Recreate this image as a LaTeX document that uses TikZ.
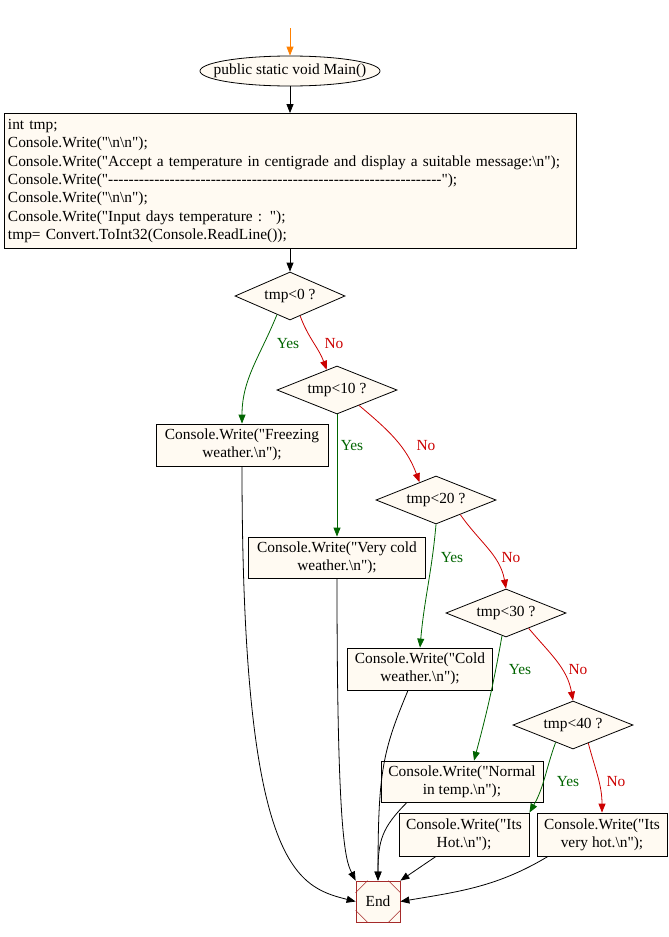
\documentclass[tikz,border=0pt]{standalone}
\usepackage{fontspec}
\setmainfont{Liberation Serif}[Ligatures=TeXOff]
\usetikzlibrary{shapes.geometric,arrows.meta,calc}
\definecolor{flw}{HTML}{FFFAF2}
\definecolor{yesc}{HTML}{006400}
\definecolor{noc}{HTML}{CC0000}
\definecolor{endc}{HTML}{A52A2A}
\newcommand\bs{\textbackslash}
\newcommand\dashes{\foreach \i in {1,...,65}{-}}

\begin{document}
\begin{tikzpicture}[x=1pt,y=-1pt,font=\fontsize{15.4}{18.3}\selectfont,
  box/.style={draw,fill=flw,line width=0.8pt,inner sep=0pt,align=center},
  dia/.style={diamond,aspect=2.5,draw,fill=flw,line width=0.8pt,inner sep=0pt,minimum width=120pt,minimum height=48pt},
  arr/.style={-{Triangle[length=9pt,width=7pt]},line width=0.8pt},
  yes/.style={arr,yesc},
  no/.style={arr,noc},
  yl/.style={text=yesc},
  nl/.style={text=noc}]
  \useasboundingbox (0,0) rectangle (669,937);
  \coordinate (top) at (290,28);
  \node[ellipse,draw,fill=flw,line width=0.8pt,inner xsep=-14pt,inner ysep=0pt,minimum width=180pt,minimum height=30pt] (main) at (290,71) {public static void Main()};
  \node[box,align=left,text width=564pt,inner xsep=4pt,minimum height=135pt] (init) at (290,181) {int tmp;\\
    Console.Write("\bs n\bs n");\\
    Console.Write("Accept a temperature in centigrade and display a suitable message:\bs n");\\
    Console.Write("\dashes");\\
    Console.Write("\bs n\bs n");\\
    Console.Write("Input days temperature : ");\\
    tmp= Convert.ToInt32(Console.ReadLine());};
  \node[dia,minimum width=110pt] (d0) at (290,296) {tmp<0 ?};
  \node[dia] (d1) at (337,390) {tmp<10 ?};
  \node[dia] (d2) at (436,500) {tmp<20 ?};
  \node[dia] (d3) at (506,613) {tmp<30 ?};
  \node[dia] (d4) at (573,725) {tmp<40 ?};
  \node[box,minimum width=172pt,minimum height=42pt] (b1) at (242,445) {Console.Write("Freezing\\weather.\bs n");};
  \node[box,minimum width=177pt,minimum height=41pt] (b2) at (337,557.5) {Console.Write("Very cold\\weather.\bs n");};
  \node[box,minimum width=145pt,minimum height=42pt] (b3) at (420,669) {Console.Write("Cold\\weather.\bs n");};
  \node[box,minimum width=162pt,minimum height=41pt] (b4) at (462,781.5) {Console.Write("Normal\\in temp.\bs n");};
  \node[box,minimum width=130pt,minimum height=43pt] (b5) at (464,834.5) {Console.Write("Its\\Hot.\bs n");};
  \node[box,minimum width=130pt,minimum height=43pt] (b6) at (602,834.5) {Console.Write("Its\\very hot.\bs n");};
  \node[box,draw=endc,minimum width=44pt,minimum height=41pt] (end) at (378,901.5) {End};
  \draw[endc,line width=0.6pt] ($(end.north west)+(12,0)$) -- ($(end.north west)+(0,12)$)
    ($(end.north east)+(-12,0)$) -- ($(end.north east)+(0,12)$)
    ($(end.south west)+(12,0)$) -- ($(end.south west)+(0,-12)$)
    ($(end.south east)+(-12,0)$) -- ($(end.south east)+(0,-12)$);
  % yes / no labels
  \node[yl] (y0) at (288,344) {Yes};
  \node[nl] (n0) at (334,344) {No};
  \node[yl] (y1) at (352,446) {Yes};
  \node[nl] (n1) at (426,446) {No};
  \node[yl] (y2) at (452,558) {Yes};
  \node[nl] (n2) at (511,558) {No};
  \node[yl] (y3) at (520,670) {Yes};
  \node[nl] (n3) at (578,670) {No};
  \node[yl] (y4) at (568,782) {Yes};
  \node[nl] (n4) at (616,782) {No};
  % edges
  \draw[arr,orange] (top) -- (main.north);
  \draw[arr] (main.south) -- (init.north);
  \draw[arr] (init.south) -- (d0.north);
  \draw[yes] (d0.-125) to[out=-112,in=90] (b1.north);
  \draw[no] (d0.-63) to[out=-70,in=110] (d1.117);
  \draw[yes] (d1.south) -- (b2.north);
  \draw[no] (d1.-35) to[out=-40,in=110] (d2.133);
  \draw[yes] (d2.south) to[out=-95,in=85] (b3.north);
  \draw[no] (d2.-31) to[out=-55,in=100] (d3.north);
  \draw[yes] (d3.-100) to[out=-100,in=75] ([xshift=12pt]b4.north);
  \draw[no] (d3.-34) to[out=-50,in=100] (d4.north);
  \draw[yes] (d4.-135) to[out=-110,in=60] (b5.north east);
  \draw[no] (d4.-50) to[out=-75,in=90] (b6.north);
  \draw[arr] (b1.south) .. controls +(0,400) and +(-60,-15) .. (end.west);
  \draw[arr] (b2.south) .. controls +(0,260) and +(-10,-20) .. (end.north west);
  \draw[arr] ([xshift=-12pt]b3.south) .. controls +(-25,60) and +(0,-110) .. (end.north);
  \draw[arr] ([xshift=-55pt]b4.south) .. controls +(-25,25) and +(0,-40) .. (end.north);
  \draw[arr] ([xshift=-28pt]b5.south) -- (end.north east);
  \draw[arr] ([xshift=-54pt]b6.south) .. controls +(-50,30) and +(60,-10) .. (end.east);
\end{tikzpicture}
\end{document}
